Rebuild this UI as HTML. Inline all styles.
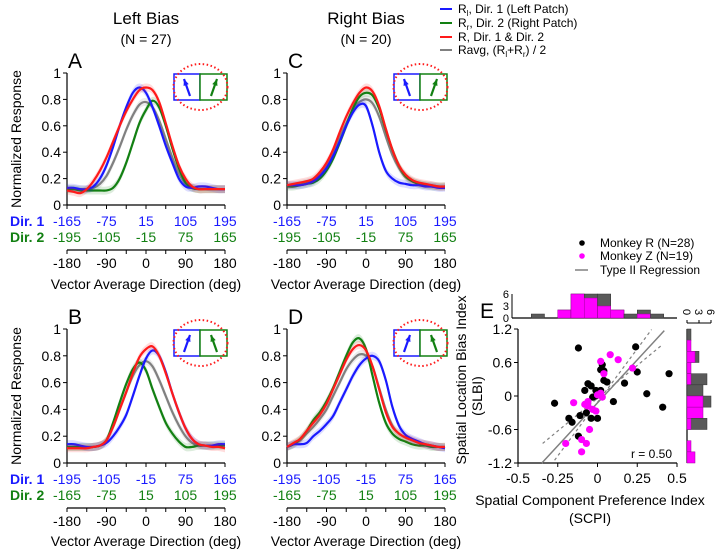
<!DOCTYPE html>
<html><head><meta charset="utf-8"><style>
body{margin:0;background:#fff;}
svg{display:block;font-family:"Liberation Sans",Arial,sans-serif;}
</style></head><body>
<svg id="fig" width="720" height="553" viewBox="0 0 720 553" xmlns="http://www.w3.org/2000/svg">
<g>
<text x="146" y="24" font-size="17" text-anchor="middle">Left Bias</text>
<text x="146" y="44" font-size="14" text-anchor="middle">(N = 27)</text>
<text x="366" y="24" font-size="17" text-anchor="middle">Right Bias</text>
<text x="366" y="44" font-size="14" text-anchor="middle">(N = 20)</text>
</g>
<g font-size="12">
<line x1="440" y1="9" x2="452" y2="9" stroke="#1a1aff" stroke-width="2"/><text x="458" y="13">R<tspan font-size="8" dy="3">l</tspan><tspan dy="-3">, Dir. 1 (Left Patch)</tspan></text>
<line x1="440" y1="23" x2="452" y2="23" stroke="#128012" stroke-width="2"/><text x="458" y="27">R<tspan font-size="8" dy="3">r</tspan><tspan dy="-3">, Dir. 2 (Right Patch)</tspan></text>
<line x1="440" y1="37" x2="452" y2="37" stroke="#ff1a1a" stroke-width="2"/><text x="458" y="41">R, Dir. 1 &amp; Dir. 2</text>
<line x1="440" y1="50" x2="452" y2="50" stroke="#808080" stroke-width="2"/><text x="458" y="54">Ravg, (R<tspan font-size="8" dy="3">l</tspan><tspan dy="-3">+R</tspan><tspan font-size="8" dy="3">r</tspan><tspan dy="-3">) / 2</tspan></text>
</g>
</svg>
<script>
const dirs=[-180,-165,-150,-135,-120,-105,-90,-75,-60,-45,-30,-15,0,15,30,45,60,75,90,105,120,135,150,165,180];
const aBlue=[.13,.13,.12,.12,.14,.2,.3,.44,.6,.74,.85,.89,.85,.74,.6,.45,.32,.2,.14,.13,.14,.14,.13,.12,.12];
const aRed=[.11,.1,.09,.12,.18,.26,.36,.48,.6,.71,.8,.87,.89,.87,.78,.62,.45,.3,.2,.14,.12,.12,.12,.12,.12];
const aGray=[.12,.12,.12,.12,.13,.16,.22,.32,.44,.57,.68,.76,.78,.74,.64,.5,.36,.24,.16,.13,.12,.12,.12,.12,.12];
const aGreen=[.12,.12,.11,.11,.11,.11,.11,.13,.2,.32,.47,.62,.72,.79,.74,.6,.43,.28,.17,.13,.12,.12,.12,.12,.12];
const bBlue=[.14,.14,.13,.12,.12,.13,.15,.2,.27,.36,.5,.65,.78,.84,.8,.68,.52,.38,.26,.18,.14,.13,.13,.14,.14];
const bRed=[.11,.11,.11,.11,.12,.13,.17,.27,.4,.53,.67,.79,.85,.87,.8,.67,.52,.38,.26,.18,.14,.13,.12,.12,.11];
const bGray=[.12,.12,.12,.12,.12,.13,.17,.27,.4,.53,.65,.73,.76,.72,.62,.5,.38,.28,.2,.15,.13,.13,.13,.13,.13];
const bGreen=[.12,.12,.12,.12,.12,.13,.17,.3,.45,.59,.7,.75,.69,.55,.42,.3,.22,.16,.12,.12,.13,.13,.13,.13,.13];
const cBlue=[.15,.15,.15,.16,.18,.22,.28,.37,.48,.6,.7,.76,.75,.6,.4,.26,.2,.17,.16,.15,.15,.14,.14,.13,.13];
const cRed=[.15,.16,.17,.18,.2,.25,.32,.42,.55,.67,.77,.85,.89,.86,.75,.58,.42,.3,.23,.19,.17,.16,.15,.14,.14];
const cGray=[.15,.15,.16,.17,.19,.23,.3,.4,.51,.62,.72,.78,.8,.77,.67,.52,.38,.28,.21,.18,.16,.15,.15,.14,.14];
const cGreen=[.14,.14,.15,.16,.17,.2,.26,.35,.47,.6,.73,.82,.85,.83,.73,.57,.42,.3,.22,.18,.16,.15,.14,.14,.14];
const dBlue=[.12,.14,.14,.15,.2,.24,.29,.35,.45,.55,.65,.73,.78,.8,.76,.62,.42,.28,.21,.18,.16,.14,.13,.12,.11];
const dRed=[.12,.15,.18,.24,.3,.36,.44,.55,.66,.77,.85,.88,.84,.72,.55,.38,.27,.22,.19,.17,.15,.14,.13,.12,.12];
const dGray=[.12,.14,.17,.22,.27,.33,.4,.5,.6,.7,.77,.81,.8,.72,.56,.4,.28,.22,.19,.17,.15,.14,.13,.12,.12];
const dGreen=[.12,.14,.18,.24,.32,.38,.46,.56,.68,.8,.9,.93,.85,.65,.45,.3,.22,.18,.16,.14,.13,.13,.12,.12,.12];
const yTicks=[0,0.2,0.4,0.6,0.8,1];
const yTickLabels=["0","0.2","0.4","0.6","0.8","1"];
const xTicks=[-180,-90,0,90,180];
const dirA1=["-165","-75","15","105","195"], dirA2=["-195","-105","-15","75","165"];
const dirB1=["-195","-105","-15","75","165"], dirB2=["-165","-75","15","105","195"];
const blackX=[-0.12,0.24,0.03,0.02,0.04,0.25,0.45,-0.06,-0.04,-0.08,-0.01,0.04,0.06,0.02,0.17,0.31,-0.03,-0.01,0.10,0.41,-0.27,-0.07,-0.11,-0.16,-0.18,-0.04,0.0,-0.12];
const blackY=[0.86,0.88,0.56,0.47,0.45,0.43,0.40,0.22,0.18,0.10,0.10,0.28,0.25,0.10,0.23,0.04,-0.02,0.0,-0.10,-0.20,-0.13,-0.30,-0.35,-0.47,-0.40,-0.40,-0.40,-0.72];
const magX=[-0.15,0.02,0.08,0.13,0.04,0.22,0.0,0.03,-0.06,-0.06,-0.03,-0.01,-0.05,-0.08,-0.20,-0.10,-0.07,-0.10,0.02];
const magY=[-0.12,0.62,0.74,0.65,0.40,0.50,0.02,-0.02,-0.10,-0.18,-0.24,-0.27,-0.60,-0.15,-0.85,-0.78,-0.85,-1.0,0.05];
const topBinStart=[-0.5,-0.4167,-0.3333,-0.25,-0.1667,-0.0833,0,0.0833,0.1667,0.25,0.3333,0.4167];
const topBlack=[0,1,0,2,6,6,6,2,1,2,1,0];
const topMag=[0,0,0,2,6,5,3,2,0,1,0,0];
const rightBinTop=[1.2,1.0,0.8,0.6,0.4,0.2,0.0,-0.2,-0.4,-0.6,-0.8,-1.0];
const rightBlack=[1,0,3,0,5,4,6,0,5,0,0,0];
const rightMag=[0,1,2,1,1,0,4,4,1,0,1,2];
const eXTicks=[-0.5,-0.25,0,0.25,0.5], eXLabels=["-0.5","-0.25","0","0.25","0.5"];
const eYTicks=[-1.2,-0.6,0,0.6,1.2], eYLabels=["-1.2","-0.6","0","0.6","1.2"];
const regX=[-0.35,0.42], regY=[-1.2,1.17];
const ciUpX=[-0.345,0.40], ciUpY=[-0.85,0.90];
const ciLoX=[-0.27,0.34], ciLoY=[-1.15,1.19];

const NS="http://www.w3.org/2000/svg";
const svg=document.getElementById('fig');
function mk(tag,attrs,parent){const e=document.createElementNS(NS,tag);for(const k in attrs)e.setAttribute(k,attrs[k]);(parent||svg).appendChild(e);return e;}
function txt(s,attrs,parent){const e=mk('text',attrs,parent);e.textContent=s;return e;}
function smooth(pts){let d="M"+pts[0][0]+","+pts[0][1];for(let i=0;i<pts.length-1;i++){const p0=pts[i-1]||pts[i],p1=pts[i],p2=pts[i+1],p3=pts[i+2]||p2;d+=" C"+(p1[0]+(p2[0]-p0[0])/6)+","+(p1[1]+(p2[1]-p0[1])/6)+" "+(p2[0]-(p3[0]-p1[0])/6)+","+(p2[1]-(p3[1]-p1[1])/6)+" "+p2[0]+","+p2[1];}return d;}
const COL={blue:"#1a1aff",red:"#ff1a1a",gray:"#808080",green:"#128012"};

function panel(cfg){
 const g=mk('g',{});
 
 
 const x0=cfg.x0,w=158,yT=cfg.yTop,yB=cfg.yBot;
 const sx=v=>x0+(v+180)/360*w, sy=v=>yB-(v)*(yB-yT);
 txt(cfg.letter,{x:x0+1,y:yT-5,'font-size':21},g);
 mk('line',{x1:x0,y1:yT,x2:x0,y2:yB,stroke:'#000','stroke-width':1.2},g);
 mk('line',{x1:x0,y1:yB,x2:x0+w,y2:yB,stroke:'#000','stroke-width':1.2},g);
 yTicks.forEach((t,i)=>{mk('line',{x1:x0-4,y1:sy(t),x2:x0,y2:sy(t),stroke:'#000'},g);const l=txt(yTickLabels[i],{x:x0-6,y:sy(t)+5,'font-size':14,'text-anchor':'end'},g);});
 for(let v=-180;v<=180;v+=45){mk('line',{x1:sx(v),y1:yB,x2:sx(v),y2:yB+4,stroke:'#000'},g);}
 if(cfg.yTitle){const t=txt('Normalized Response',{x:0,y:0,'font-size':14,'text-anchor':'middle',transform:`translate(${x0-46},${(yT+yB)/2}) rotate(-90)`},g);}
 if(cfg.yTitle){
  const d1=txt('Dir. 1',{x:10,y:yB+21,'font-size':14,'font-weight':'bold',fill:COL.blue},g);
  const d2=txt('Dir. 2',{x:10,y:yB+37,'font-size':14,'font-weight':'bold',fill:COL.green},g);
 }
 xTicks.forEach((t,i)=>{
  const a=txt(cfg.d1[i],{x:sx(t),y:yB+21,'font-size':14,'text-anchor':'middle',fill:COL.blue},g);
  const b=txt(cfg.d2[i],{x:sx(t),y:yB+37,'font-size':14,'text-anchor':'middle',fill:COL.green},g);
 });
 const ya=yB+45;
 mk('line',{x1:x0,y1:ya,x2:x0+w,y2:ya,stroke:'#000','stroke-width':1.2},g);
 for(let v=-180;v<=180;v+=45){mk('line',{x1:sx(v),y1:ya,x2:sx(v),y2:ya+4,stroke:'#000'},g);}
 xTicks.forEach(t=>{const l=txt(String(t),{x:sx(t),y:ya+18,'font-size':14,'text-anchor':'middle'},g);});
 const xt=txt('Vector Average Direction (deg)',{x:x0+w/2,y:ya+cfg.titleOff,'font-size':14,'text-anchor':'middle'},g);
 cfg.series.forEach(s=>{
  const up=dirs.map((d,i)=>[sx(d),sy(s.v[i]+0.03)]), dn=dirs.map((d,i)=>[sx(d),sy(s.v[i]-0.03)]).reverse();
  const sd=smooth(dn);
  const band=mk('path',{d:smooth(up)+" L"+dn[0][0]+","+dn[0][1]+sd.slice(sd.indexOf(' '))+"Z",fill:s.c,opacity:0.15,stroke:'none'},g);
  
  const p=mk('path',{d:smooth(dirs.map((d,i)=>[sx(d),sy(s.v[i])])),fill:'none',stroke:s.c,'stroke-width':2.2},g);
  
 });
 const ix=x0+107,iy=yT+1;
 const ins=mk('g',{},g);
 mk('rect',{x:ix,y:iy,width:26,height:26,fill:'#fff',stroke:COL.blue,'stroke-width':1.5},ins);
 mk('rect',{x:ix+26,y:iy,width:27,height:26,fill:'#fff',stroke:COL.green,'stroke-width':1.5},ins);
 mk('ellipse',{cx:ix+26.5,cy:iy+13,rx:27,ry:23,fill:'none',stroke:'#ff1a1a','stroke-width':2,'stroke-dasharray':'1.5 2.5'},ins);
 const arr=(x1,y1,x2,y2,c)=>{mk('line',{x1,y1,x2,y2,stroke:c,'stroke-width':2.2},ins);const a=Math.atan2(y2-y1,x2-x1);mk('polygon',{points:`${x2},${y2} ${x2-7*Math.cos(a-0.4)},${y2-7*Math.sin(a-0.4)} ${x2-7*Math.cos(a+0.4)},${y2-7*Math.sin(a+0.4)}`,fill:c},ins);};
 if(cfg.arrowsOut){arr(ix+16,iy+22,ix+10,iy+5,COL.blue);arr(ix+37,iy+22,ix+43,iy+5,COL.green);}
 else{arr(ix+10,iy+22,ix+16,iy+5,COL.blue);arr(ix+43,iy+22,ix+37,iy+5,COL.green);}
}
panel({letter:'A',x0:67,yTop:73,yBot:205,yTitle:true,titleOff:39,d1:dirA1,d2:dirA2,arrowsOut:true,series:[{n:'avg',c:COL.gray,v:aGray},{n:'green',c:COL.green,v:aGreen},{n:'blue',c:COL.blue,v:aBlue},{n:'red',c:COL.red,v:aRed}]});
panel({letter:'C',x0:287,yTop:73,yBot:205,yTitle:false,titleOff:39,d1:dirA1,d2:dirA2,arrowsOut:true,series:[{n:'avg',c:COL.gray,v:cGray},{n:'green',c:COL.green,v:cGreen},{n:'blue',c:COL.blue,v:cBlue},{n:'red',c:COL.red,v:cRed}]});
panel({letter:'B',x0:67,yTop:329,yBot:463,yTitle:true,titleOff:38,d1:dirB1,d2:dirB2,arrowsOut:false,series:[{n:'avg',c:COL.gray,v:bGray},{n:'green',c:COL.green,v:bGreen},{n:'blue',c:COL.blue,v:bBlue},{n:'red',c:COL.red,v:bRed}]});
panel({letter:'D',x0:287,yTop:329,yBot:463,yTitle:false,titleOff:38,d1:dirB1,d2:dirB2,arrowsOut:false,series:[{n:'avg',c:COL.gray,v:dGray},{n:'green',c:COL.green,v:dGreen},{n:'blue',c:COL.blue,v:dBlue},{n:'red',c:COL.red,v:dRed}]});

(function(){
 const g=mk('g',{});
 
 
 const L=518,R=677,T=329,B=463;
 const sx=v=>L+(v+0.5)*(R-L), sy=v=>B-(v+1.2)/2.4*(B-T);
 txt('E',{x:480,y:318,'font-size':21},g);
 const lg=mk('g',{'font-size':12},g);
 mk('circle',{cx:582,cy:243,r:2.8,fill:'#000'},lg);txt('Monkey R (N=28)',{x:600,y:247},lg);
 mk('circle',{cx:582,cy:256,r:2.8,fill:'#ff00ff'},lg);txt('Monkey Z (N=19)',{x:600,y:260},lg);
 mk('line',{x1:575,y1:270,x2:588,y2:270,stroke:'#808080','stroke-width':1.5},lg);txt('Type II Regression',{x:600,y:274},lg);
 mk('line',{x1:L,y1:T,x2:L,y2:B,stroke:'#000','stroke-width':1.2},g);
 mk('line',{x1:L,y1:B,x2:R,y2:B,stroke:'#000','stroke-width':1.2},g);
 eYTicks.forEach((t,i)=>{mk('line',{x1:L-4,y1:sy(t),x2:L,y2:sy(t),stroke:'#000'},g);const l=txt(eYLabels[i],{x:L-6,y:sy(t)+5,'font-size':14,'text-anchor':'end'},g);});
 eXTicks.forEach((t,i)=>{mk('line',{x1:sx(t),y1:B,x2:sx(t),y2:B+4,stroke:'#000'},g);const l=txt(eXLabels[i],{x:sx(t),y:B+20,'font-size':14,'text-anchor':'middle'},g);});
 const yt=txt('Spatial Location Bias Index',{x:0,y:0,'font-size':14,'text-anchor':'middle',transform:`translate(466,${(T+B)/2-16}) rotate(-90)`},g);
 const yt2=txt('(SLBI)',{x:0,y:0,'font-size':14,'text-anchor':'middle',transform:`translate(482,${(T+B)/2}) rotate(-90)`},g);
 const xt=txt('Spatial Component Preference Index',{x:590,y:505,'font-size':14,'text-anchor':'middle'},g);
 const xt2=txt('(SCPI)',{x:590,y:523,'font-size':14,'text-anchor':'middle'},g);
 const rl=mk('line',{x1:sx(regX[0]),y1:sy(regY[0]),x2:sx(regX[1]),y2:sy(regY[1]),stroke:'#808080','stroke-width':1.5},g);
 const c1=mk('line',{x1:sx(ciUpX[0]),y1:sy(ciUpY[0]),x2:sx(ciUpX[1]),y2:sy(ciUpY[1]),stroke:'#808080','stroke-width':1.2,'stroke-dasharray':'3 3'},g);
 const c2=mk('line',{x1:sx(ciLoX[0]),y1:sy(ciLoY[0]),x2:sx(ciLoX[1]),y2:sy(ciLoY[1]),stroke:'#808080','stroke-width':1.2,'stroke-dasharray':'3 3'},g);
 blackX.forEach((x,i)=>{const c=mk('circle',{cx:sx(x),cy:sy(blackY[i]),r:3.6,fill:'#000'},g);});
 magX.forEach((x,i)=>{const c=mk('circle',{cx:sx(x),cy:sy(magY[i]),r:3.6,fill:'#ff00ff'},g);});
 const r=txt('r = 0.50',{x:672,y:458,'font-size':12,'text-anchor':'end'},g);
 const hb=318,hs=4,bw=(R-L)/12;
 mk('line',{x1:L-6,y1:hb,x2:R,y2:hb,stroke:'#000','stroke-width':1.2},g);
 mk('line',{x1:L-6,y1:hb,x2:L-6,y2:hb-24,stroke:'#000'},g);
 [0,3,6].forEach(t=>{txt(String(t),{x:L-9,y:hb-t*hs+4,'font-size':11,'text-anchor':'end'},g);});
 topBinStart.forEach((s,i)=>{
  if(topBlack[i]>0){const b=mk('rect',{x:sx(s),y:hb-topBlack[i]*hs,width:bw,height:topBlack[i]*hs,fill:'#5a5a5a',stroke:'#333','stroke-width':0.5},g);}
  if(topMag[i]>0){const b=mk('rect',{x:sx(s),y:hb-topMag[i]*hs,width:bw,height:topMag[i]*hs,fill:'#ff00ff',stroke:'#a000a0','stroke-width':0.5},g);}
 });
 const rb=687,bh=(B-T)/12;
 mk('line',{x1:rb,y1:T,x2:rb,y2:B,stroke:'#000','stroke-width':1.2},g);
 mk('line',{x1:rb,y1:T-6,x2:rb+24,y2:T-6,stroke:'#000'},g);
 [0,3,6].forEach(t=>{mk('line',{x1:rb+t*hs,y1:T-9,x2:rb+t*hs,y2:T-6,stroke:'#000'},g);txt(String(t),{x:0,y:0,'font-size':11,'text-anchor':'start',transform:`translate(${rb+t*hs-4},${T-20}) rotate(90)`},g);});
 rightBinTop.forEach((t,i)=>{
  if(rightBlack[i]>0){const b=mk('rect',{x:rb,y:sy(t),width:rightBlack[i]*hs,height:bh,fill:'#5a5a5a',stroke:'#333','stroke-width':0.5},g);}
  if(rightMag[i]>0){const b=mk('rect',{x:rb,y:sy(t),width:rightMag[i]*hs,height:bh,fill:'#ff00ff',stroke:'#a000a0','stroke-width':0.5},g);}
 });
})();
</script>
</body></html>
